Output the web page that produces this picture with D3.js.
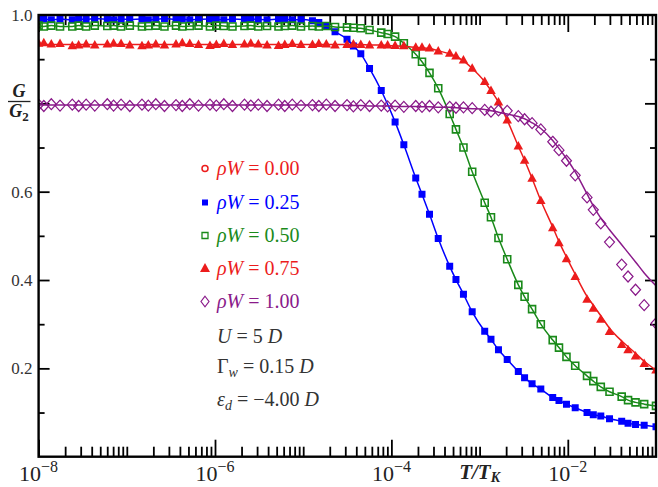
<!DOCTYPE html>
<html><head><meta charset="utf-8">
<script src="https://cdn.jsdelivr.net/npm/d3@7"></script>
<style>
body{margin:0;background:#fff}
svg{display:block}
text{font-family:"Liberation Serif","DejaVu Serif",serif}
</style>
</head><body>
<svg id="chart" width="658" height="487"></svg>
<script>
// log10(T/T_K) sample grid shared by all series
const logT = [
 -8.000,-7.941,-7.856,-7.757, -7.618,-7.546,-7.461,-7.363, -7.221,-7.150,-7.065,-6.966,
 -6.828,-6.756,-6.671,-6.573, -6.442,-6.371,-6.286,-6.187, -6.057,-5.985,-5.900,-5.802,
 -5.666,-5.594,-5.509,-5.410, -5.280,-5.209,-5.124,-5.025, -4.895,-4.823,-4.738,-4.639,
 -4.503,-4.431,-4.347,-4.248, -4.115,-4.043,-3.958,-3.859, -3.724,-3.653,-3.568,-3.469,
 -3.339,-3.268,-3.183,-3.084, -2.942,-2.871,-2.786,-2.687, -2.561,-2.490,-2.405,-2.306,
 -2.171,-2.100,-2.015,-1.916, -1.782,-1.711,-1.626,-1.527, -1.389,-1.317,-1.232,-1.134,
 -1.000];

// G/G2, rho W = 0.25 (blue squares)
const gW025 = [
 0.990,0.991,0.989,0.991, 0.989,0.991,0.990,0.992, 0.990,0.989,0.991,0.990,
 0.991,0.989,0.990,0.992, 0.990,0.991,0.989,0.990, 0.991,0.990,0.989,0.991,
 0.990,0.991,0.990,0.989, 0.991,0.990,0.989,0.990, 0.987,0.983,0.975,0.962,
 0.945,0.930,0.912,0.879, 0.829,null,0.758,0.706, 0.631,0.594,0.549,0.494,
 0.431,0.401,0.368,0.328, 0.284,0.266,0.242,0.220, 0.193,0.179,0.165,0.153,
 0.134,0.127,0.119,0.111, 0.100,0.095,0.092,0.086, 0.080,0.076,0.073,0.071,
 0.068];

// rho W = 0.50 (green open squares)
const gW050 = [
 0.976,0.974,0.976,0.974, 0.974,0.976,0.974,0.976, 0.975,0.976,0.974,0.976,
 0.974,0.975,0.976,0.974, 0.976,0.974,0.975,0.976, 0.974,0.976,0.975,0.974,
 0.975,0.976,0.974,0.975, 0.974,0.975,0.976,0.974, 0.975,0.974,0.975,0.973,
 0.972,0.971,0.970,0.966, 0.960,0.957,0.951,0.936, 0.911,0.894,0.869,0.834,
 0.776,0.741,0.700,0.645, 0.575,0.542,0.495,0.447, 0.389,0.362,0.334,0.300,
 0.264,0.247,0.226,0.206, 0.183,0.171,0.158,0.147, 0.136,0.128,0.123,0.119,
 0.115];

// rho W = 0.75 (red filled triangles)
const gW075 = [
 0.936,0.937,0.934,0.935, 0.930,0.932,0.934,0.932, 0.934,0.936,0.935,0.932,
 0.930,0.932,0.934,0.932, 0.934,0.937,0.935,0.933, 0.931,0.933,0.935,0.933,
 0.934,0.936,0.934,0.932, 0.931,0.933,0.935,0.933, 0.933,0.935,0.934,0.932,
 0.933,0.934,0.933,0.932, 0.932,0.932,0.931,0.930, 0.927,0.927,0.925,0.918,
 0.913,0.907,0.898,0.879, 0.849,0.829,0.803,0.762, 0.703,0.671,0.630,0.580,
 0.518,0.484,0.448,0.408, 0.356,0.336,0.311,0.283, 0.254,0.242,0.228,0.211,
 0.196];
const fitW075 = [
 0.933,0.933,0.933,0.933, 0.933,0.933,0.933,0.933, 0.933,0.933,0.933,0.933,
 0.933,0.933,0.933,0.933, 0.933,0.933,0.933,0.933, 0.933,0.933,0.933,0.933,
 0.933,0.933,0.933,0.933, 0.933,0.933,0.933,0.933, 0.933,0.933,0.933,0.933,
 0.933,0.933,0.933,0.932, 0.932,0.931,0.930,0.929, 0.927,0.926,0.924,0.919,
 0.912,0.906,0.896,0.879, 0.849,0.829,0.803,0.762, 0.703,0.671,0.630,0.580,
 0.520,0.487,0.452,0.413, 0.363,0.343,0.319,0.291, 0.262,0.249,0.234,0.216,
 0.196];

// rho W = 1.00 (purple open diamonds)
const gW100 = [
 0.797,0.794,0.798,0.795, 0.797,0.794,0.797,0.795, 0.798,0.795,0.797,0.794,
 0.797,0.795,0.798,0.794, 0.796,0.794,0.798,0.795, 0.797,0.795,0.798,0.794,
 0.797,0.795,0.797,0.794, 0.797,0.794,0.797,0.795, 0.796,0.794,0.797,0.794,
 0.796,0.793,0.796,0.794, 0.795,0.793,0.795,0.792, 0.794,0.792,0.794,0.791,
 0.792,0.790,0.791,0.789, 0.785,0.781,0.784,0.783, 0.771,0.764,0.755,0.741,
 0.713,0.694,0.670,0.637, 0.587,0.559,0.528,0.486, 0.435,0.408,0.378,0.343,
 0.302];
const fitW100 = [
 0.796,0.796,0.796,0.796, 0.796,0.796,0.796,0.796, 0.796,0.796,0.796,0.796,
 0.796,0.796,0.796,0.796, 0.796,0.796,0.796,0.796, 0.796,0.796,0.796,0.796,
 0.796,0.796,0.796,0.796, 0.796,0.796,0.796,0.796, 0.796,0.796,0.796,0.796,
 0.795,0.795,0.795,0.794, 0.794,0.794,0.793,0.793, 0.793,0.792,0.792,0.791,
 0.791,0.790,0.789,0.788, 0.786,0.783,0.780,0.776, 0.770,0.765,0.756,0.743,
 0.716,0.698,0.675,0.645, 0.595,0.568,0.540,0.514, 0.480,0.462,0.441,0.416,
 0.387];

const legendLabels = ["0.00","0.25","0.50","0.75","1.00"];
const xLabelExps = [-8,-6,-4,-2];
const yLabelVals = [0.2,0.4,0.6,1.0];

const colors = {red:"#ec1c1c", blue:"#0000ff", green:"#1a8a1a", purple:"#8a1a8a"};

const svg = d3.select("#chart");
const L = 38.6, R = 656, T = 15, B = 456.7;
const x = d3.scaleLog().domain([1e-8, 1e-1]).range([L, R]);
const y = d3.scaleLinear().domain([0, 1]).range([B, T]);

svg.append("defs").append("clipPath").attr("id","clip")
  .append("rect").attr("x",L).attr("y",T).attr("width",R-L).attr("height",B-T);

// ticks
const majorX = [1e-8,1e-6,1e-4,1e-2];
const minorX = [];
for (let e=-8; e<-1; e++) for (let m=1; m<=9; m++) {
  const v = m*Math.pow(10,e);
  if (!(m===1 && e%2===0)) minorX.push(v);
}
const majorY = [0.2,0.4,0.6,0.8], minorY=[0.1,0.3,0.5,0.7,0.9];
function styleAxis(g){ g.select(".domain").remove(); g.selectAll("line").attr("stroke","#000").attr("stroke-width",1.8); g.selectAll("text").remove(); }
svg.append("g").attr("transform",`translate(0,${B})`).call(d3.axisBottom(x).tickValues(majorX).tickSize(-17)).call(styleAxis);
svg.append("g").attr("transform",`translate(0,${B})`).call(d3.axisBottom(x).tickValues(minorX).tickSize(-10)).call(styleAxis);
svg.append("g").attr("transform",`translate(0,${T})`).call(d3.axisTop(x).tickValues(majorX).tickSize(-17)).call(styleAxis);
svg.append("g").attr("transform",`translate(0,${T})`).call(d3.axisTop(x).tickValues(minorX).tickSize(-10)).call(styleAxis);
svg.append("g").attr("transform",`translate(${L},0)`).call(d3.axisLeft(y).tickValues(majorY).tickSize(-11)).call(styleAxis);
svg.append("g").attr("transform",`translate(${L},0)`).call(d3.axisLeft(y).tickValues(minorY).tickSize(-6)).call(styleAxis);
svg.append("g").attr("transform",`translate(${R},0)`).call(d3.axisRight(y).tickValues(majorY).tickSize(-11)).call(styleAxis);
svg.append("g").attr("transform",`translate(${R},0)`).call(d3.axisRight(y).tickValues(minorY).tickSize(-6)).call(styleAxis);

// y tick labels
const yl = svg.append("g").attr("transform",`translate(${L},0)`)
  .call(d3.axisLeft(y).tickValues(yLabelVals).tickSize(0).tickPadding(6).tickFormat(d3.format(".1f")));
yl.select(".domain").remove();
yl.selectAll("text").attr("font-size",17).attr("fill","#333").style("font-family","Liberation Serif");

// x tick labels
xLabelExps.forEach(e=>{
  const t = svg.append("text").attr("x",x(Math.pow(10,e))).attr("y",481)
    .attr("text-anchor","middle").attr("font-size",22).attr("fill","#222");
  t.append("tspan").text("10");
  t.append("tspan").attr("font-size",16).attr("dy",-9).text("−"+Math.abs(e));
});
// T/T_K
const tt = svg.append("text").attr("x",x(1e-3)).attr("y",479).attr("text-anchor","middle")
  .attr("font-size",21).attr("font-weight","bold").attr("font-style","italic").attr("fill","#222");
tt.append("tspan").text("T/T");
tt.append("tspan").attr("font-size",14).attr("dy",3).text("K");

// y label fraction
svg.append("text").attr("x",19).attr("y",97).attr("text-anchor","middle").attr("font-size",18)
  .attr("font-weight","bold").attr("font-style","italic").attr("fill","#222").text("G");
svg.append("line").attr("x1",8).attr("x2",30.5).attr("y1",101.5).attr("y2",101.5).attr("stroke","#222").attr("stroke-width",1.3);
const den = svg.append("text").attr("x",19).attr("y",117).attr("text-anchor","middle").attr("font-size",18)
  .attr("font-weight","bold").attr("font-style","italic").attr("fill","#222");
den.append("tspan").text("G");
den.append("tspan").attr("font-size",13).attr("dy",4).attr("font-style","normal").text("2");

// marker shapes
const sym = {
  square:(s)=>`M${-s/2},${-s/2}h${s}v${s}h${-s}Z`,
  tri:(w,h)=>`M0,${-h*0.6}L${w/2},${h*0.4}L${-w/2},${h*0.4}Z`,
  diamond:(w,h)=>`M0,${-h/2}L${w/2},0L0,${h/2}L${-w/2},0Z`
};

const series = [
  {vals:gW025, fit:gW025, color:colors.blue, path:sym.square(7), fill:colors.blue, sw:0},
  {vals:gW050, fit:gW050, color:colors.green, path:sym.square(7), fill:"none", sw:1.6},
  {vals:gW075, fit:fitW075, color:colors.red, path:sym.tri(9.5,8.5), fill:colors.red, sw:0},
  {vals:gW100, fit:fitW100, color:colors.purple, path:sym.diamond(10,11), fill:"none", sw:1.2}
];

const plot = svg.append("g").attr("clip-path","url(#clip)");
const line = d3.line().defined(d=>d[1]!==null)
  .x(d=>x(Math.pow(10,d[0]))).y(d=>y(d[1])).curve(d3.curveMonotoneX);

series.forEach(s=>{
  const fitPts = logT.map((t,i)=>[t, s.fit[i]]).filter(d=>d[1]!==null);
  plot.append("path").attr("d",line(fitPts)).attr("fill","none").attr("stroke",s.color).attr("stroke-width",1.5);
  const pts = logT.map((t,i)=>[t, s.vals[i]]).filter(d=>d[1]!==null);
  plot.append("g").selectAll("path").data(pts).join("path")
    .attr("transform",d=>`translate(${x(Math.pow(10,d[0]))},${y(d[1])})`)
    .attr("d",s.path).attr("fill",s.fill).attr("stroke",s.color).attr("stroke-width",s.sw);
});

// frame
svg.append("rect").attr("x",L).attr("y",T).attr("width",R-L).attr("height",B-T)
  .attr("fill","none").attr("stroke","#000").attr("stroke-width",2.4);

// legend
const legColors = [colors.red, colors.blue, colors.green, colors.red, colors.purple];
const legBase = [175,209,242,275,308];
const legMarks = [
  g=>g.append("circle").attr("r",3).attr("fill","none").attr("stroke",colors.red).attr("stroke-width",1.5),
  g=>g.append("path").attr("d",sym.square(6)).attr("fill",colors.blue),
  g=>g.append("path").attr("d",sym.square(6)).attr("fill","none").attr("stroke",colors.green).attr("stroke-width",1.3),
  g=>g.append("path").attr("d",sym.tri(10,9)).attr("fill",colors.red),
  g=>g.append("path").attr("d",sym.diamond(8,10.5)).attr("fill","none").attr("stroke",colors.purple).attr("stroke-width",1.2)
];
legendLabels.forEach((lab,i)=>{
  const g = svg.append("g").attr("transform",`translate(205,${legBase[i]-6.5})`);
  legMarks[i](g);
  const t = svg.append("text").attr("x",217).attr("y",legBase[i]).attr("font-size",20).attr("fill",legColors[i]);
  t.append("tspan").attr("font-style","italic").text("ρW");
  t.append("tspan").text(" = "+lab);
});
// parameter text
const pBase = [343,373,406];
{
  const t = svg.append("text").attr("x",217).attr("y",pBase[0]).attr("font-size",20).attr("fill","#333");
  t.append("tspan").attr("font-style","italic").text("U");
  t.append("tspan").text(" = 5 ");
  t.append("tspan").attr("font-style","italic").text("D");
}
{
  const t = svg.append("text").attr("x",217).attr("y",pBase[1]).attr("font-size",20).attr("fill","#333");
  t.append("tspan").text("Γ");
  t.append("tspan").attr("font-style","italic").attr("font-size",14).attr("dy",4).text("w");
  t.append("tspan").attr("dy",-4).text(" = 0.15 ");
  t.append("tspan").attr("font-style","italic").text("D");
}
{
  const t = svg.append("text").attr("x",217).attr("y",pBase[2]).attr("font-size",20).attr("fill","#333");
  t.append("tspan").attr("font-style","italic").text("ε");
  t.append("tspan").attr("font-style","italic").attr("font-size",14).attr("dy",4).text("d");
  t.append("tspan").attr("dy",-4).text(" = −4.00 ");
  t.append("tspan").attr("font-style","italic").text("D");
}
</script>
</body></html>
